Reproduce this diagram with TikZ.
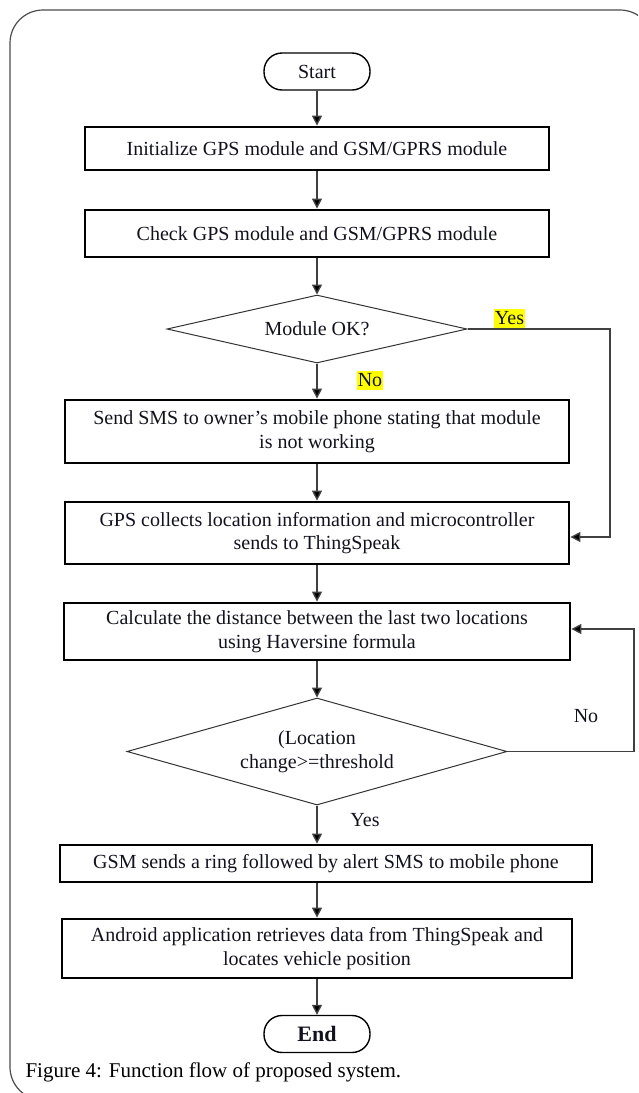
\documentclass[tikz,border=0pt]{standalone}
\usepackage{fontspec}
\setmainfont{Liberation Serif}
\usetikzlibrary{shapes.geometric,arrows.meta,calc}
\definecolor{hilite}{RGB}{255,255,0}
\definecolor{ink}{RGB}{18,18,30}

\begin{document}
\begin{tikzpicture}[x=1pt,y=-1pt,
  every node/.style={font=\fontsize{20}{23.5}\selectfont, text=ink},
  proc/.style={draw=black, line width=2.8pt, rectangle, align=center, inner sep=0pt},
  term/.style={draw=black, line width=1.4pt, rounded corners=18pt,
               minimum width=106pt, minimum height=37pt, inner sep=0pt},
  decide/.style={draw=black!80, line width=1pt, diamond, inner sep=0pt, align=center},
  flow/.style={draw=black!75, line width=1.4pt, -{Triangle[length=10pt,width=10pt,fill=black]}},
  tag/.style={inner xsep=0.5pt, inner ysep=0pt, minimum height=19pt},
]
\useasboundingbox (0,0) rectangle (638,1093);

% outer panel frame
\begin{scope}
  \clip (0,0) rectangle (638,1093);
  \draw[black!70, line width=1.2pt, rounded corners=33pt] (10,10) rectangle (653,1100);
\end{scope}

% flow steps
\node[term] (start) at (317,71.5) {Start};
\node[proc, minimum width=464pt, minimum height=43pt] (init) at (317,148.5)
  {Initialize GPS module and GSM/GPRS module};
\node[proc, minimum width=464pt, minimum height=47pt] (check) at (317,233.5)
  {Check GPS module and GSM/GPRS module};
\node[decide, aspect=4.4, minimum width=300pt, minimum height=68pt] (ok) at (317,329)
  {Module OK?};
\node[proc, minimum width=504pt, minimum height=63pt] (send) at (317,431.5)
  {Send SMS to owner’s mobile phone stating that module\\is not working};
\node[proc, minimum width=504pt, minimum height=62pt] (gps) at (317,533)
  {GPS collects location information and microcontroller\\sends to ThingSpeak};
\node[proc, minimum width=506pt, minimum height=57pt] (calc) at (317,631.5)
  {Calculate the distance between the last two locations\\using Haversine formula};
\node[decide, aspect=3.55, minimum width=380pt, minimum height=107pt] (thr) at (317,751.5)
  {(Location\\change>=threshold};
\node[proc, minimum width=532pt, minimum height=37pt] (gsm) at (326,863.5)
  {GSM sends a ring followed by alert SMS to mobile phone};
\node[proc, minimum width=510pt, minimum height=59pt] (android) at (317,948.5)
  {Android application retrieves data from ThingSpeak and\\locates vehicle position};
\node[term, font=\fontsize{22}{26}\selectfont\bfseries] (end) at (317,1034) {End};

% branch labels
\node[tag, fill=hilite] (yesA) at (509.5,318) {Yes};
\node[tag, fill=hilite] (noA) at (370,380) {No};
\node (noB) at (586,716) {No};
\node (yesB) at (365,820) {Yes};

% turning points of the side loops
\coordinate (yesTurn) at (610,0);
\coordinate (noTurn) at (634,0);

% connectors
\draw[flow] (start.south) -- (init.north);
\draw[flow] (init.south) -- (check.north);
\draw[flow] (check.south) -- (ok.north);
\draw[flow] (ok.south) -- (send.north);
\draw[flow] (send.south) -- (gps.north);
\draw[flow] (gps.south) -- (calc.north);
\draw[flow] (calc.south) -- (thr.north);
\draw[flow] (thr.south) -- (thr.south |- gsm.north);
\draw[flow] (gsm.south -| thr.south) -- (android.north);
\draw[flow] (android.south) -- (end.north);

\draw[flow] (ok.east) -- (ok.east -| yesTurn) |- ([yshift=-4pt]gps.east);
\draw[flow] (thr.east) -- (thr.east -| noTurn) |- ([yshift=2.5pt]calc.east);

% caption
\node[anchor=base west, font=\fontsize{21}{25}\selectfont, text=black] (cap) at (22,1077)
  {Figure 4: Function flow of proposed system.};
\end{tikzpicture}
\end{document}
